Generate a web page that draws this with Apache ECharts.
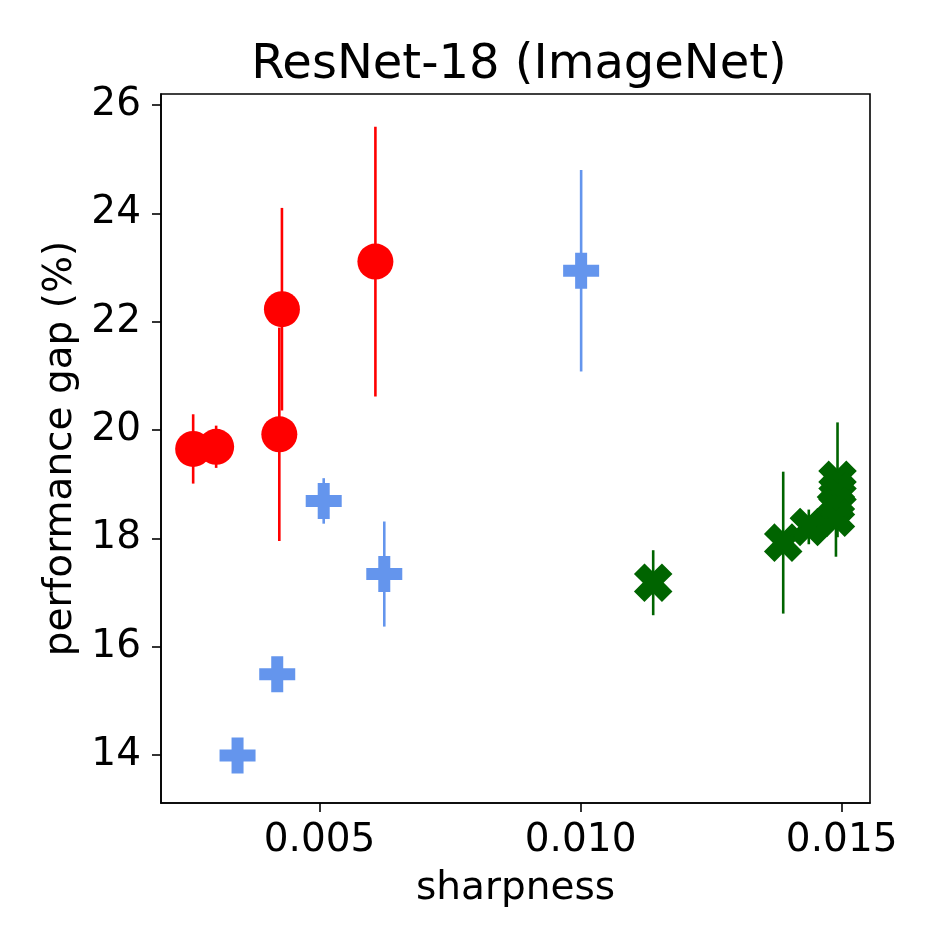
<!DOCTYPE html>
<html>
<head>
<meta charset="utf-8">
<script src="https://cdn.jsdelivr.net/npm/echarts@6/dist/echarts.min.js"></script>
<style>
  html, body { margin: 0; padding: 0; background: #fff; }
  #chart { width: 952px; height: 952px; }
</style>
</head>
<body>
<div id="chart"></div>
<script>
// values
const redX = [0.00258, 0.00302, 0.00423, 0.00428, 0.00607]
const redY = [19.65, 19.69, 19.92, 22.23, 23.11]
const redErr = [0.64, 0.39, 1.97, 1.87, 2.49]

const blueX = [0.00508, 0.00624, 0.00419, 0.00343, 0.01001]
const blueY = [18.69, 17.34, 15.49, 13.99, 22.94]
const blueErr = [0.42, 0.97, 0.3, 0.2, 1.86]

const greenX = [0.01139, 0.01388, 0.01437, 0.01492, 0.01492, 0.01489, 0.01489]
const greenY = [17.18, 17.92, 18.21, 19.08, 18.88, 18.6, 18.38]
const greenErr = [0.6, 1.31, 0.32, 1.06, 0.2, 0.2, 0.72]

const xTicks = [0.005, 0.010, 0.015]
const yTicks = [14, 16, 18, 20, 22, 24, 26]

const FONT = 'DejaVu Sans'
const plusPath = 'path://M1,0 L2,0 L2,1 L3,1 L3,2 L2,2 L2,3 L1,3 L1,2 L0,2 L0,1 L1,1 Z'
const xPath = 'path://M0.25,0 L0.5,0.25 L0.75,0 L1,0.25 L0.75,0.5 L1,0.75 L0.75,1 L0.5,0.75 L0.25,1 L0,0.75 L0.25,0.5 L0,0.25 Z'

function points(xs, ys) {
  return xs.map((x, i) => [x, ys[i]])
}

function bars(xs, ys, errs) {
  return xs.map((x, i) => [x, ys[i] - errs[i], ys[i] + errs[i]])
}

function errorBar(color, width) {
  return function (params, api) {
    const lo = api.coord([api.value(0), api.value(1)])
    const hi = api.coord([api.value(0), api.value(2)])
    return {
      type: 'line',
      shape: { x1: lo[0], y1: lo[1], x2: hi[0], y2: hi[1] },
      style: { stroke: color, lineWidth: width }
    }
  }
}

function group(name, color, symbol, size, edge, xs, ys, errs, z) {
  return [
    {
      name: name + '-err',
      type: 'custom',
      renderItem: errorBar(color, 2.6),
      encode: { x: 0, y: [1, 2] },
      data: bars(xs, ys, errs),
      z: z,
      silent: true
    },
    {
      name: name,
      type: 'scatter',
      symbol: symbol,
      symbolSize: size,
      itemStyle: { color: color, opacity: 1, borderColor: color, borderWidth: edge },
      data: points(xs, ys),
      z: z + 1
    }
  ]
}

const chart = echarts.init(document.getElementById('chart'), null, { renderer: 'canvas' })

const option = {
  animation: false,
  backgroundColor: '#fff',
  title: {
    text: 'ResNet-18 (ImageNet)',
    left: 514,
    top: 37,
    textAlign: 'center',
    textStyle: { fontFamily: FONT, fontSize: 48, fontWeight: 'normal', color: '#000' }
  },
  grid: {
    left: 161,
    right: 82,
    top: 94,
    bottom: 149,
    show: true,
    borderColor: '#000',
    borderWidth: 1.6,
    backgroundColor: 'transparent'
  },
  xAxis: {
    type: 'value',
    min: 0.001964,
    max: 0.015542,
    name: 'sharpness',
    nameLocation: 'middle',
    nameGap: 66,
    nameTextStyle: { fontFamily: FONT, fontSize: 39, color: '#000' },
    axisLine: { show: true, lineStyle: { color: '#000', width: 1.6 } },
    axisTick: { show: true, length: 9, lineStyle: { color: '#000', width: 1.6 }, customValues: xTicks },
    axisLabel: {
      customValues: xTicks,
      margin: 18,
      fontFamily: FONT,
      fontSize: 39,
      color: '#000',
      formatter: v => v.toFixed(3)
    },
    splitLine: { show: false }
  },
  yAxis: {
    type: 'value',
    min: 13.113,
    max: 26.203,
    name: 'performance gap (%)',
    nameLocation: 'middle',
    nameGap: 76,
    nameTextStyle: { fontFamily: FONT, fontSize: 39, color: '#000' },
    axisLine: { show: true, lineStyle: { color: '#000', width: 1.6 } },
    axisTick: { show: true, length: 9, lineStyle: { color: '#000', width: 1.6 }, customValues: yTicks },
    axisLabel: {
      customValues: yTicks,
      margin: 20,
      fontFamily: FONT,
      fontSize: 39,
      color: '#000'
    },
    splitLine: { show: false }
  },
  series: [
    ...group('red', '#ff0000', 'circle', 36, 0, redX, redY, redErr, 2),
    ...group('blue', '#6495ed', plusPath, 36, 0, blueX, blueY, blueErr, 4),
    ...group('green', '#006400', xPath, 35, 2.5, greenX, greenY, greenErr, 6)
  ]
}

chart.setOption(option)
window.addEventListener('resize', () => chart.resize())
</script>
</body>
</html>
